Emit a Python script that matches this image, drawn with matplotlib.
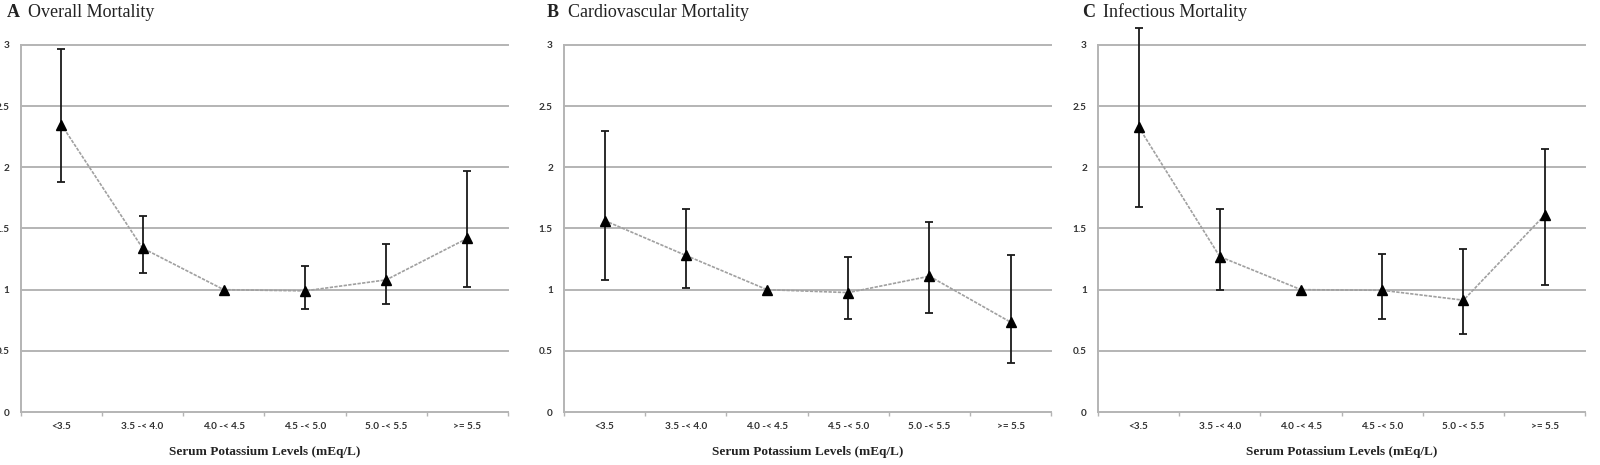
import matplotlib
matplotlib.use("Agg")
import matplotlib.pyplot as plt
import numpy as np

categories = ["<3.5", "3.5 -< 4.0", "4.0 -< 4.5", "4.5 -< 5.0", "5.0 -< 5.5", ">= 5.5"]

titles_letter = ["A", "B", "C"]
titles_text = ["Overall Mortality", "Cardiovascular Mortality", "Infectious Mortality"]

overall_hr = [2.35, 1.34, 1.00, 0.99, 1.08, 1.42]
overall_lo = [1.88, 1.14, 1.00, 0.845, 0.88, 1.02]
overall_hi = [2.97, 1.60, 1.00, 1.19, 1.37, 1.97]

cardio_hr = [1.565, 1.28, 1.00, 0.976, 1.11, 0.734]
cardio_lo = [1.075, 1.015, 1.00, 0.764, 0.807, 0.398]
cardio_hi = [2.30, 1.66, 1.00, 1.27, 1.55, 1.284]

infect_hr = [2.33, 1.27, 1.00, 0.995, 0.914, 1.61]
infect_lo = [1.675, 1.00, 1.00, 0.758, 0.64, 1.036]
infect_hi = [3.14, 1.66, 1.00, 1.295, 1.33, 2.15]

yticks = [0, 0.5, 1, 1.5, 2, 2.5, 3]
ytick_labels = ["0", "0.5", "1", "1.5", "2", "2.5", "3"]
xlabel = "Serum Potassium Levels (mEq/L)"

series = [
    (overall_hr, overall_lo, overall_hi),
    (cardio_hr, cardio_lo, cardio_hi),
    (infect_hr, infect_lo, infect_hi),
]

W, H = 1600, 465
fig = plt.figure(figsize=(W / 100, H / 100), dpi=100)

lefts = [20.7, 564, 1098]
ax_w = 487.3
top_px, bot_px = 45, 412
title_x = [7, 547, 1082]
title_gap = 21

grid_col = "#b4b4b4"
serif = ["Liberation Serif", "DejaVu Serif"]
sans = ["Lato", "DejaVu Sans"]

for i, (hr, lo, hi) in enumerate(series):
    ax = fig.add_axes([lefts[i] / W, (H - bot_px) / H, ax_w / W, (bot_px - top_px) / H])
    x = np.arange(len(categories)) + 0.5
    hr = np.array(hr); lo = np.array(lo); hi = np.array(hi)
    ax.set_xlim(0, len(categories))
    ax.set_ylim(0, 3)
    for yv in yticks[1:]:
        ax.axhline(yv, color=grid_col, lw=1.4, zorder=0, clip_on=False)
    ax.plot(x, hr, color="#a0a0a0", lw=1.2, linestyle=(0, (2, 0.8)), zorder=2)
    has_err = (hi - lo) > 1e-6
    ax.errorbar(x[has_err], hr[has_err],
                yerr=[hr[has_err] - lo[has_err], hi[has_err] - hr[has_err]],
                fmt="none", ecolor="#1a1a1a", elinewidth=1.3, capsize=3.0,
                capthick=1.3, zorder=3, clip_on=False)
    ax.plot(x, hr, linestyle="none", marker="^", color="black", markersize=6.8,
            zorder=4, clip_on=False)
    for s in ["top", "right"]:
        ax.spines[s].set_visible(False)
    for s in ["left", "bottom"]:
        ax.spines[s].set_color(grid_col)
        ax.spines[s].set_linewidth(1.4)
    ax.set_xticks(np.arange(len(categories) + 1))
    ax.set_xticklabels([])
    ax.set_xticks(x, minor=True)
    ax.set_xticklabels(categories, minor=True, fontsize=7.2, family=sans,
                       color="#333333", fontweight="bold")
    ax.tick_params(axis="x", which="major", length=3, color=grid_col, width=1)
    ax.tick_params(axis="x", which="minor", length=0, pad=7)
    ax.set_yticks(yticks)
    ax.set_yticklabels(ytick_labels, fontsize=7.2, family=sans, color="#333333",
                       fontweight="bold")
    ax.tick_params(axis="y", length=0, pad=8)
    ax.set_facecolor("none")

    fig.text(title_x[i] / W, 1 - 12.5 / H, titles_letter[i], family=serif,
             fontweight="bold", fontsize=13, va="center", ha="left", color="#222222")
    fig.text((title_x[i] + title_gap) / W, 1 - 12.5 / H, titles_text[i], family=serif,
             fontsize=13, va="center", ha="left", color="#222222")
    cx = (lefts[i] + ax_w / 2) / W
    fig.text(cx, 1 - 452 / H, xlabel, family=serif, fontweight="bold",
             fontsize=9.5, ha="center", va="center", color="#222222")

fig.savefig("out.png", dpi=100)
